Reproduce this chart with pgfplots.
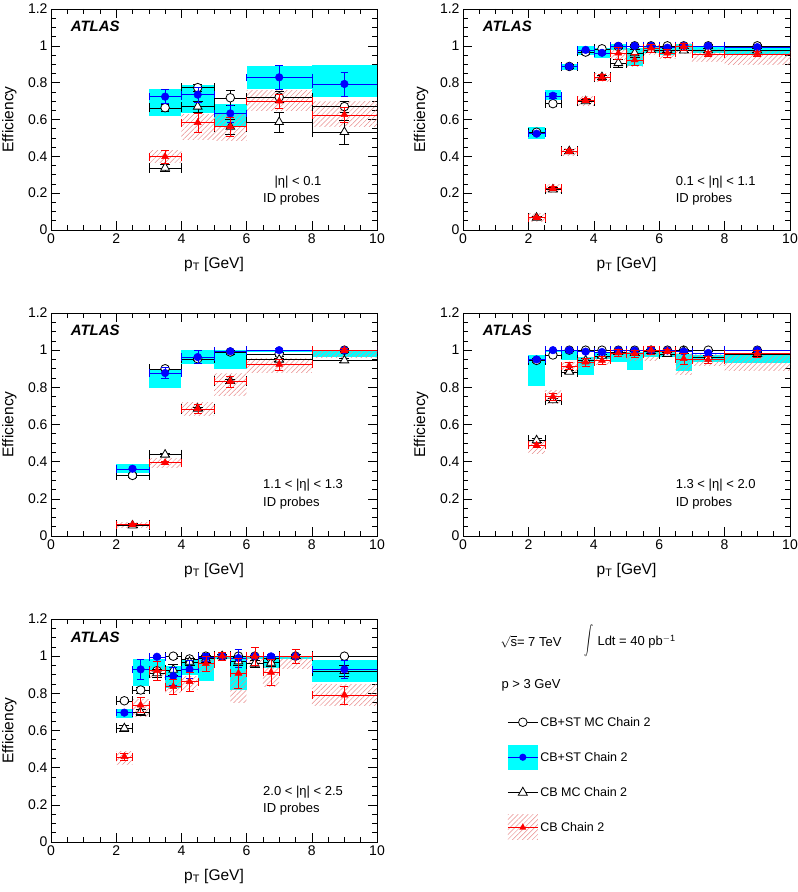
\documentclass[border=0pt]{standalone}
\usepackage{pgfplots}
\pgfplotsset{compat=1.18}
\usepackage{pgfplotstable}
\usepackage{graphicx}
\usepackage{fontspec}
\setmainfont{Liberation Sans}
\usetikzlibrary{patterns.meta}

\definecolor{hatchred}{RGB}{232,140,140}
\definecolor{rcyan}{RGB}{0,255,255}
\definecolor{rblue}{RGB}{0,0,255}
\definecolor{rred}{RGB}{255,0,0}
\pgfdeclareplotmark{empty}{}

% columns: x, half bin width, MC CB+ST (c), data CB+ST (b) with band, MC CB (t), data CB (r) with band
\pgfplotstableread{
x    dx   c     ce    b     be    blo   bhi   t     te    r     re    rlo   rhi
3.5  0.5  0.664 0.020 0.724 0.038 0.621 0.764 0.338 0.020 0.398 0.035 0.366 0.431
4.5  0.5  0.773 0.020 0.735 0.040 0.633 0.787 0.670 0.030 0.583 0.050 0.489 0.628
5.5  0.5  0.718 0.040 0.633 0.045 0.561 0.684 0.561 0.040 0.561 0.050 0.485 0.628
7    1    0.722 0.030 0.829 0.065 0.764 0.892 0.586 0.055 0.700 0.040 0.651 0.760
9    1    0.670 0.030 0.793 0.065 0.724 0.896 0.532 0.065 0.626 0.040 0.561 0.697
}\tabA
\pgfplotstableread{
x    dx   c     ce    b     be    blo   bhi   t     te    r     re    rlo   rhi
2.25 0.25 0.531 0.010 0.523 0.010 0.495 0.560 0.067 0.010 0.067 0.010 0.045 0.090
2.75 0.25 0.686 0.015 0.729 0.015 0.708 0.762 0.220 0.010 0.226 0.010 0.203 0.248
3.25 0.25 0.888 0.010 0.888 0.010 0.870 0.900 0.428 0.010 0.428 0.010 0.404 0.445
3.75 0.25 0.966 0.010 0.978 0.010 0.951 1.000 0.699 0.010 0.704 0.010 0.677 0.727
4.25 0.25 0.984 0.010 0.962 0.010 0.933 0.987 0.830 0.010 0.830 0.015 0.808 0.849
4.75 0.25 0.996 0.010 1.000 0.010 0.978 1.010 0.906 0.020 0.960 0.030 0.924 0.996
5.25 0.25 1.000 0.010 1.000 0.010 0.893 0.987 0.960 0.020 0.924 0.030 0.888 0.968
5.75 0.25 1.000 0.010 1.000 0.010 0.960 1.000 0.978 0.010 0.987 0.020 0.951 1.000
6.25 0.25 1.000 0.010 0.990 0.010 0.951 0.996 0.978 0.010 0.960 0.020 0.933 0.986
6.75 0.25 1.000 0.010 1.000 0.010 0.978 1.010 0.975 0.010 0.996 0.020 0.958 1.010
7.5  0.5  1.000 0.010 1.000 0.010 0.960 1.000 0.975 0.010 0.957 0.015 0.913 0.980
9    1    1.000 0.010 0.993 0.010 0.957 0.996 0.975 0.010 0.957 0.015 0.900 0.969
}\tabB
\pgfplotstableread{
x    dx   c     ce    b     be    blo   bhi   t     te    r     re    rlo   rhi
2.5  0.5  0.326 0.010 0.362 0.010 0.339 0.386 0.057 0.010 0.061 0.010 0.045 0.072
3.5  0.5  0.900 0.010 0.877 0.030 0.798 0.897 0.438 0.010 0.395 0.010 0.371 0.416
4.5  0.5  0.954 0.010 0.963 0.035 0.924 1.003 0.685 0.010 0.685 0.025 0.649 0.716
5.5  0.5  0.990 0.010 0.994 0.010 0.900 1.003 0.834 0.010 0.832 0.030 0.757 0.873
7    1    0.980 0.010 1.000 0.010 0.988 1.003 0.949 0.010 0.924 0.030 0.882 0.954
9    1    1.000 0.010 1.000 0.010 0.963 1.000 0.945 0.010 1.000 0.010 0.963 1.000
}\tabC
\pgfplotstableread{
x    dx   c     ce    b     be    blo   bhi   t     te    r     re    rlo   rhi
2.25 0.25 0.945 0.010 0.950 0.010 0.807 0.974 0.515 0.010 0.488 0.010 0.443 0.506
2.75 0.25 0.974 0.010 1.000 0.005 0.990 1.000 0.730 0.010 0.750 0.020 0.712 0.784
3.25 0.25 1.000 0.005 1.000 0.010 0.945 1.000 0.884 0.010 0.915 0.020 0.882 0.936
3.75 0.25 1.000 0.005 0.992 0.010 0.865 0.963 0.945 0.010 0.936 0.020 0.909 0.963
4.25 0.25 1.000 0.005 0.990 0.010 0.954 0.990 0.970 0.010 0.945 0.020 0.924 0.963
4.75 0.25 1.000 0.005 1.000 0.010 0.936 0.990 0.990 0.010 0.985 0.020 0.963 1.000
5.25 0.25 1.000 0.005 0.998 0.010 0.895 0.990 0.985 0.010 0.981 0.020 0.945 1.000
5.75 0.25 1.000 0.005 1.000 0.010 0.963 1.000 0.995 0.010 1.000 0.020 0.945 1.000
6.25 0.25 1.000 0.005 0.998 0.010 0.963 1.000 0.980 0.010 0.995 0.010 0.972 1.000
6.75 0.25 1.000 0.005 0.993 0.010 0.888 0.980 0.995 0.010 0.954 0.030 0.870 0.980
7.5  0.5  1.000 0.005 0.985 0.010 0.936 0.972 0.963 0.010 0.949 0.020 0.918 0.980
9    1    1.000 0.005 1.000 0.010 0.930 0.980 0.980 0.010 0.981 0.020 0.891 0.972
}\tabD
\pgfplotstableread{
x    dx   c     ce    b     be    blo   bhi   t     te    r     re    rlo   rhi
2.25 0.25 0.760 0.010 0.696 0.010 0.666 0.714 0.612 0.015 0.459 0.020 0.416 0.488
2.75 0.25 0.818 0.015 0.929 0.055 0.840 0.983 0.700 0.015 0.737 0.040 0.676 0.766
3.25 0.25 0.922 0.015 0.997 0.010 0.924 0.985 0.908 0.020 0.922 0.050 0.883 0.945
3.75 0.25 1.000 0.010 0.893 0.050 0.829 0.949 0.927 0.030 0.836 0.040 0.802 0.865
4.25 0.25 0.985 0.010 0.929 0.050 0.900 0.985 0.970 0.020 0.863 0.050 0.820 0.891
4.75 0.25 1.000 0.010 0.995 0.020 0.865 1.000 0.987 0.020 0.960 0.040 0.918 0.985
5.25 0.25 1.000 0.005 1.000 0.010 0.985 1.000 1.000 0.010 1.000 0.020 0.985 1.000
5.75 0.25 1.000 0.005 0.990 0.050 0.818 1.000 0.972 0.020 0.908 0.080 0.750 0.918
6.25 0.25 1.000 0.005 1.000 0.010 0.985 1.000 0.960 0.020 0.999 0.050 0.963 1.000
6.75 0.25 0.990 0.010 0.999 0.010 0.936 1.000 0.965 0.020 0.913 0.070 0.838 0.942
7.5  0.5  1.000 0.005 1.000 0.010 0.985 1.000 1.000 0.010 1.000 0.040 0.936 1.000
9    1    1.000 0.005 0.929 0.050 0.862 0.980 0.920 0.030 0.791 0.050 0.737 0.845
}\tabE

\pgfplotsset{
  eff/.style={scale only axis, width=326pt,
    xmin=0, xmax=10, ymin=0, ymax=1.2,
    clip marker paths=true,
    xtick={0,2,4,6,8,10}, minor x tick num=3,
    ytick={0,0.2,0.4,0.6,0.8,1,1.2}, minor y tick num=3,
    tick align=inside, major tick length=9pt, minor tick length=5pt,
    axis line style={line width=0.7pt},
    every tick/.style={black, line width=0.6pt},
    tick label style={font=\fontsize{14}{16}\selectfont},
    /pgf/number format/assume math mode=true,
    xlabel={p\textsubscript{T} [GeV]}, ylabel={Efficiency},
    every axis y label/.style={at={(axis description cs:-0.128,0.5)}, rotate=90, anchor=center,
      font=\fontsize{15.5}{18}\selectfont},
    every axis x label/.style={at={(axis description cs:0.5,-0.172)}, anchor=base,
      font=\fontsize{15.5}{18}\selectfont},
  },
  cyanband/.style={forget plot, scatter, only marks, mark=empty,
    visualization depends on={\thisrow{dx} \as \bandx},
    visualization depends on={(\thisrow{bhi}-\thisrow{blo})/2 \as \bandy},
    scatter/@pre marker code/.code={\path[fill=rcyan, draw=none] (axis direction cs:-\bandx,-\bandy) rectangle (axis direction cs:\bandx,\bandy);},
    scatter/@post marker code/.code={}},
  hatchband/.style={forget plot, scatter, only marks, mark=empty,
    visualization depends on={\thisrow{dx} \as \bandx},
    visualization depends on={(\thisrow{rhi}-\thisrow{rlo})/2 \as \bandy},
    scatter/@pre marker code/.code={\path[draw=none, pattern={Lines[angle=45,distance=3.5pt,line width=0.5pt]}, pattern color=hatchred] (axis direction cs:-\bandx,-\bandy) rectangle (axis direction cs:\bandx,\bandy);},
    scatter/@post marker code/.code={}},
  pts/.style={forget plot, only marks,
    error bars/.cd, x dir=both, x explicit, y dir=both, y explicit},
}

\newcommand{\drawpanel}[1]{%
  \addplot[cyanband] table[x=x, y expr={(\thisrow{blo}+\thisrow{bhi})/2}] {#1};
  \addplot[hatchband] table[x=x, y expr={(\thisrow{rlo}+\thisrow{rhi})/2}] {#1};
  \addplot[black, line width=0.8pt, mark=*, mark size=4.3pt, mark options={fill=white, draw=black}, pts]
    table[x=x, y=c, x error=dx, y error=ce] {#1};
  \addplot[black, line width=0.8pt, mark=triangle*, mark size=5pt, mark options={fill=white, draw=black}, pts]
    table[x=x, y=t, x error=dx, y error=te] {#1};
  \addplot[rblue, line width=1.1pt, mark=*, mark size=3.8pt, mark options={fill=rblue, draw=rblue, line width=0.5pt}, pts]
    table[x=x, y=b, x error=dx, y error=be] {#1};
  \addplot[rred, line width=1pt, mark=triangle*, mark size=4pt, mark options={fill=rred, draw=rred, line width=0.5pt}, pts]
    table[x=x, y=r, x error=dx, y error=re] {#1};
}

\begin{document}
\begin{tikzpicture}[font=\fontsize{13}{15}\selectfont]
\path[use as bounding box] (0,0) rectangle (798pt,892pt);

\begin{axis}[eff, height=221pt, at={(51pt,662pt)}, anchor=south west]
  \drawpanel{\tabA}
  \node[anchor=west, font=\fontsize{15}{18}\selectfont\bfseries\itshape] at (axis cs:0.5,1.107) {ATLAS};
  \node[anchor=west] at (axis cs:6.75,0.26) {|η| < 0.1};
  \node[anchor=west] at (axis cs:6.4,0.168) {ID probes};
\end{axis}

\begin{axis}[eff, width=327pt, height=221pt, at={(463pt,662pt)}, anchor=south west]
  \drawpanel{\tabB}
  \node[anchor=west, font=\fontsize{15}{18}\selectfont\bfseries\itshape] at (axis cs:0.5,1.107) {ATLAS};
  \node[anchor=west] at (axis cs:6.4,0.26) {0.1 < |η| < 1.1};
  \node[anchor=west] at (axis cs:6.4,0.168) {ID probes};
\end{axis}

\begin{axis}[eff, height=223pt, at={(51pt,356pt)}, anchor=south west]
  \drawpanel{\tabC}
  \node[anchor=west, font=\fontsize{15}{18}\selectfont\bfseries\itshape] at (axis cs:0.5,1.107) {ATLAS};
  \node[anchor=west] at (axis cs:6.4,0.274) {1.1 < |η| < 1.3};
  \node[anchor=west] at (axis cs:6.4,0.178) {ID probes};
\end{axis}

\begin{axis}[eff, width=327pt, height=223pt, at={(463pt,356pt)}, anchor=south west]
  \drawpanel{\tabD}
  \node[anchor=west, font=\fontsize{15}{18}\selectfont\bfseries\itshape] at (axis cs:0.5,1.107) {ATLAS};
  \node[anchor=west] at (axis cs:6.4,0.274) {1.3 < |η| < 2.0};
  \node[anchor=west] at (axis cs:6.4,0.178) {ID probes};
\end{axis}

\begin{axis}[eff, height=223pt, at={(51pt,50pt)}, anchor=south west,
  legend style={at={(axis description cs:1.399,0.594)}, anchor=north west, draw=none, fill=none,
    font=\fontsize{12.5}{15}\selectfont, row sep=10pt, inner sep=0pt},
  legend cell align=left]
  \drawpanel{\tabE}
  \node[anchor=west, font=\fontsize{15}{18}\selectfont\bfseries\itshape] at (axis cs:0.5,1.103) {ATLAS};
  \node[anchor=west] at (axis cs:6.4,0.269) {2.0 < |η| < 2.5};
  \node[anchor=west] at (axis cs:6.4,0.178) {ID probes};
  \addlegendimage{legend image code/.code={
    \path[draw=none, fill=none] (0pt,-12.5pt) rectangle (30pt,12.5pt);
    \draw[black, line width=0.8pt] (0pt,0pt) -- (30pt,0pt);
    \draw[black, fill=white, line width=0.8pt] (15pt,0pt) circle (4.3pt);}}
  \addlegendentry{CB+ST MC Chain 2}
  \addlegendimage{legend image code/.code={
    \path[draw=none, fill=rcyan] (0pt,-12.5pt) rectangle (30pt,12.5pt);
    \draw[rblue, line width=1.1pt] (0pt,0pt) -- (30pt,0pt);
    \path[draw=none, fill=rblue] (15pt,0pt) circle (3.6pt);}}
  \addlegendentry{CB+ST Chain 2}
  \addlegendimage{legend image code/.code={
    \path[draw=none, fill=none] (0pt,-12.5pt) rectangle (30pt,12.5pt);
    \draw[black, line width=0.8pt] (0pt,0pt) -- (30pt,0pt);
    \draw[black, fill=white, line width=0.8pt] (10.5pt,-3pt) -- (19.5pt,-3pt) -- (15pt,5pt) -- cycle;}}
  \addlegendentry{CB MC Chain 2}
  \addlegendimage{legend image code/.code={
    \path[draw=none, pattern={Lines[angle=45,distance=3.5pt,line width=0.5pt]}, pattern color=hatchred] (0pt,-12.5pt) rectangle (30pt,12.5pt);
    \draw[rred, line width=1pt] (0pt,0pt) -- (30pt,0pt);
    \path[draw=none, fill=rred] (11.5pt,-2.5pt) -- (18.5pt,-2.5pt) -- (15pt,4pt) -- cycle;}}
  \addlegendentry{CB Chain 2}
\end{axis}

\node[anchor=west] at (497pt,250pt) {\(\sqrt{\hbox{s}}\)= 7 TeV};
\node[anchor=center, inner sep=0pt] at (589pt,251pt) {\scalebox{0.9}[1.45]{\(\displaystyle\int\)}};
\node[anchor=west] at (594pt,250pt) {Ldt = 40 pb\textsuperscript{$-$1}};
\node[anchor=west] at (498pt,207pt) {p > 3 GeV};
\end{tikzpicture}
\end{document}
